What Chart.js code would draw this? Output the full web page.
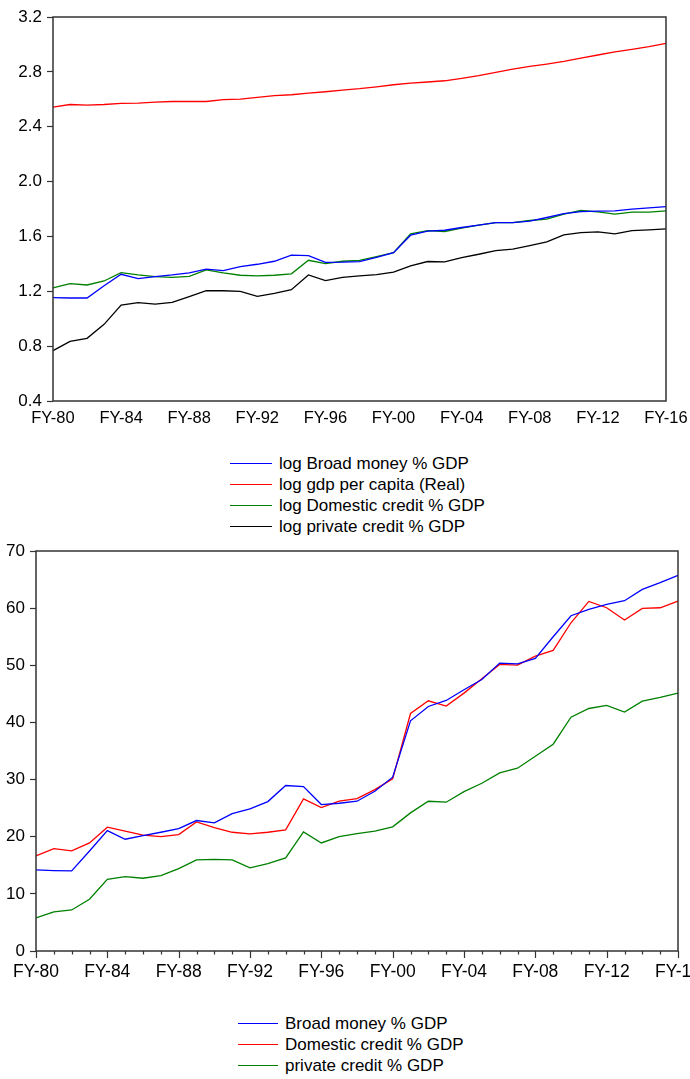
<!DOCTYPE html>
<html>
<head>
<meta charset="utf-8">
<script src="https://cdn.jsdelivr.net/npm/chart.js@4.4.1/dist/chart.umd.min.js"></script>
<style>
  html, body { margin:0; padding:0; background:#fff; width:690px; height:1079px; overflow:hidden; position:relative; }
  canvas { position:absolute; left:0; }
  .legend { position:absolute; font-family:"Liberation Sans", Arial, sans-serif; font-size:17px; color:#000; }
  .legend .row { position:relative; height:21px; line-height:21px; white-space:nowrap; }
  .legend .ln { position:absolute; top:10px; height:1.4px; }
</style>
</head>
<body>
<canvas id="c1" width="720" height="440" style="top:0px"></canvas>
<div id="leg1" class="legend" style="left:230px; top:453px;"></div>
<canvas id="c2" width="720" height="460" style="top:530px"></canvas>
<div id="leg2" class="legend" style="left:238px; top:1013px;"></div>
<script>
// ---------- data ----------
const years = ["FY-80","FY-81","FY-82","FY-83","FY-84","FY-85","FY-86","FY-87","FY-88","FY-89",
  "FY-90","FY-91","FY-92","FY-93","FY-94","FY-95","FY-96","FY-97","FY-98","FY-99",
  "FY-00","FY-01","FY-02","FY-03","FY-04","FY-05","FY-06","FY-07","FY-08","FY-09",
  "FY-10","FY-11","FY-12","FY-13","FY-14","FY-15","FY-16"];

// top chart (logs)
const logBroadMoney = [1.154,1.151,1.151,1.241,1.324,1.292,1.307,1.319,1.334,1.361,1.351,1.380,1.397,1.419,1.463,1.460,1.411,1.412,1.417,1.448,
  1.482,1.609,1.638,1.645,1.665,1.682,1.701,1.701,1.711,1.738,1.767,1.781,1.784,1.786,1.799,1.808,1.818];
const logGdpPerCapita = [2.543,2.562,2.558,2.562,2.570,2.572,2.580,2.584,2.584,2.584,2.597,2.601,2.614,2.626,2.633,2.645,2.655,2.667,2.677,2.691,
  2.706,2.718,2.726,2.735,2.752,2.772,2.796,2.820,2.840,2.857,2.876,2.900,2.923,2.945,2.964,2.984,3.008];
const logDomesticCredit = [1.224,1.256,1.246,1.275,1.336,1.319,1.307,1.302,1.309,1.356,1.334,1.317,1.312,1.317,1.327,1.426,1.402,1.419,1.426,1.453,
  1.482,1.619,1.643,1.636,1.660,1.682,1.701,1.701,1.716,1.726,1.762,1.789,1.779,1.762,1.777,1.777,1.786];
const logPrivateCredit = [0.767,0.835,0.857,0.959,1.100,1.117,1.107,1.119,1.161,1.204,1.204,1.200,1.163,1.185,1.212,1.319,1.278,1.302,1.312,1.321,
  1.339,1.385,1.417,1.414,1.446,1.470,1.497,1.507,1.533,1.560,1.611,1.628,1.633,1.619,1.643,1.648,1.655];

// bottom chart (% GDP)
const broadMoney = [14.19,14.07,14.01,17.5,21.07,19.56,20.2,20.78,21.42,22.83,22.42,24.05,24.87,26.15,28.96,28.78,25.63,25.86,
  26.21,27.96,30.41,40.28,42.79,43.84,45.71,47.52,50.38,50.26,51.2,54.99,58.67,59.78,60.65,61.3,63.28,64.45,65.73];
const domesticCredit = [16.64,17.92,17.51,18.91,21.66,20.96,20.26,20.02,20.37,22.59,21.6,20.78,20.49,20.78,21.19,26.62,25.1,26.21,
  26.68,28.25,30.12,41.56,43.78,42.85,45.13,47.64,50.15,50.03,51.61,52.6,57.44,61.18,60.07,57.91,59.95,60.07,61.24];
const privateCredit = [5.78,6.83,7.18,9.05,12.55,13.02,12.73,13.19,14.42,15.94,16.05,15.94,14.54,15.29,16.29,20.84,18.91,20.02,
  20.55,20.96,21.72,24.17,26.21,26.04,27.9,29.36,31.17,31.99,34.09,36.19,40.92,42.44,42.97,41.8,43.72,44.37,45.13];

const topNames = ["log Broad money % GDP","log gdp per capita (Real)","log Domestic credit % GDP","log private credit % GDP"];
const topColors = ["#0000ff","#ff0000","#008000","#000000"];
const botNames = ["Broad money % GDP","Domestic credit % GDP","private credit % GDP"];
const botColors = ["#0000ff","#ff0000","#008000"];
const topTicksY = [0.4,0.8,1.2,1.6,2.0,2.4,2.8,3.2];
const botTicksY = [0,10,20,30,40,50,60,70];

// ---------- helpers ----------
const FONT = "'Liberation Sans', Arial, sans-serif";
Chart.defaults.font.family = FONT;
Chart.defaults.color = "#000";

const framePlugin = {
  id: 'frame',
  afterDatasetsDraw(chart) {
    const a = chart.chartArea, ctx = chart.ctx;
    ctx.save();
    ctx.strokeStyle = '#333';
    ctx.lineWidth = 1.5;
    ctx.strokeRect(a.left, a.top, a.right - a.left, a.bottom - a.top);
    ctx.restore();
  }
};

const minorTicksPlugin = {
  id: 'minorTicks',
  afterDraw(chart, args, opts) {
    if (!opts || !opts.enabled) return;
    const xs = chart.scales.x, a = chart.chartArea, ctx = chart.ctx;
    ctx.save();
    ctx.strokeStyle = '#333';
    ctx.lineWidth = 1.2;
    for (let i = 0; i < years.length; i++) {
      const x = Math.round(xs.getPixelForValue(i)) + 0.5;
      const len = (i % 4 === 0) ? 7 : 3.5;
      ctx.beginPath();
      ctx.moveTo(x, a.bottom);
      ctx.lineTo(x, a.bottom + len);
      ctx.stroke();
    }
    ctx.restore();
  }
};

function makeDatasets(names, colors, series) {
  return names.map((n, i) => ({
    label: n, data: series[i], borderColor: colors[i], backgroundColor: colors[i],
    borderWidth: 1.3, pointRadius: 0, tension: 0, fill: false
  }));
}

function buildLegend(el, names, colors, lineLen, gap) {
  names.forEach((n, i) => {
    const row = document.createElement('div');
    row.className = 'row';
    row.style.paddingLeft = (lineLen + gap) + 'px';
    const ln = document.createElement('div');
    ln.className = 'ln';
    ln.style.left = '0px';
    ln.style.width = lineLen + 'px';
    ln.style.background = colors[i];
    row.appendChild(ln);
    row.appendChild(document.createTextNode(n));
    el.appendChild(row);
  });
}

function makeChart(id, cfg) {
  return new Chart(document.getElementById(id), {
    type: 'line',
    data: { labels: years, datasets: cfg.datasets },
    options: {
      responsive: false, animation: false, devicePixelRatio: 1,
      layout: { padding: cfg.padding },
      plugins: { legend: { display: false }, tooltip: { enabled: false }, minorTicks: { enabled: cfg.minorTicks } },
      scales: {
        x: {
          type: 'category', offset: false,
          grid: { display: false, drawTicks: false },
          border: { display: false },
          ticks: {
            autoSkip: false, maxRotation: 0, minRotation: 0,
            padding: cfg.xPad,
            font: { size: cfg.xFont },
            callback: (v, i) => (i % 4 === 0 ? years[i] : '')
          },
          afterFit: s => { s.height = cfg.xHeight; }
        },
        y: {
          min: cfg.yTicks[0], max: cfg.yTicks[cfg.yTicks.length - 1],
          afterBuildTicks: s => { s.ticks = cfg.yTicks.map(v => ({ value: v })); },
          grid: { display: true, drawOnChartArea: false, drawTicks: true, tickLength: 6, color: '#333', tickWidth: 1.2 },
          border: { display: false },
          ticks: { padding: 5, font: { size: 17 }, callback: cfg.yFmt },
          afterFit: s => { s.width = cfg.yWidth; }
        }
      }
    },
    plugins: [framePlugin, minorTicksPlugin]
  });
}

// ---------- top chart ----------
makeChart('c1', {
  datasets: makeDatasets(topNames, topColors, [logBroadMoney, logGdpPerCapita, logDomesticCredit, logPrivateCredit]),
  padding: { top: 17, right: 54, left: 0, bottom: 0 },
  yTicks: topTicksY, yWidth: 53, xHeight: 39, xPad: 8, xFont: 16.5, minorTicks: false,
  yFmt: v => Number(v).toFixed(1)
});
buildLegend(document.getElementById('leg1'), topNames, topColors, 42, 7);

// ---------- bottom chart ----------
makeChart('c2', {
  datasets: makeDatasets(botNames, botColors, [broadMoney, domesticCredit, privateCredit]),
  padding: { top: 21, right: 42, left: 0, bottom: 0 },
  yTicks: botTicksY, yWidth: 36, xHeight: 39, xPad: 11, xFont: 17.5, minorTicks: true,
  yFmt: v => String(v)
});
buildLegend(document.getElementById('leg2'), botNames, botColors, 40, 7);
</script>
</body>
</html>
